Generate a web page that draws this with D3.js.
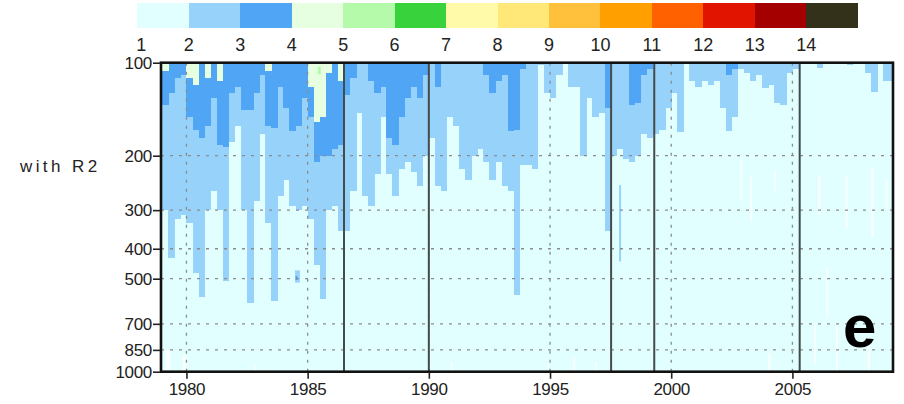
<!DOCTYPE html>
<html>
<head>
<meta charset="utf-8">
<script src="https://cdn.jsdelivr.net/npm/d3@7"></script>
<style>
  body { margin: 0; background: #fff; }
  svg { display: block; }
  text { font-family: "Liberation Sans", Arial, sans-serif; fill: #222; }
</style>
</head>
<body>
<svg id="chart" width="904" height="404"></svg>
<script>
// Quarterly time steps starting in January 1979
const startYear = 1979;
const stepYears = 0.25;

// Lowest pressure (hPa) reached by class 2 counted from the 100 hPa top, one per quarter
const lightBlueBottom = [
  300, 430, 320, 310, 330, 480, 575, 300, 260, 300, 510, 180,
  160, 300, 600, 280, 170, 330, 590, 270, 240, 290, 300, 290,
  320, 450, 580, 300, 290, 350, 350, 260, 145, 270, 290, 230,
  150, 230, 270, 220, 210, 225, 250, 200, 175, 250, 260, 150,
  160, 220, 240, 200, 190, 210, 240, 210, 250, 260, 564, 215,
  215, 220, 102, 125, 130, 110, 100, 120, 120, 200, 130, 150,
  145, 350, 200, 190, 205, 210, 200, 170, 175, 170, 165, 140,
  125, 168, 100, 115, 120, 115, 118, 115, 140, 166, 150, 105,
  108, 115, 110, 121, 118, 135, 137, 108, 105, 100, 100, 100,
  104, 100, 100, 101, 100, 102, 100, 100, 108, 124, 100, 115,
  115
];

// Lowest pressure (hPa) reached by class 3
const darkBlueBottom = [
  137, 125, 112, 110, 150, 165, 175, 160, 130, 185, 188, 125,
  120, 142, 142, 125, 110, 160, 163, 120, 140, 166, 160, 130,
  150, 209, 200, 200, 190, 185, 127, 112, 100, 100, 115, 125,
  120, 175, 185, 150, 130, 120, 130, 110, 100, 120, 100, 100,
  100, 100, 100, 100, 100, 110, 125, 115, 110, 166, 165, 105,
  100, 100, 100, 100, 100, 100, 100, 100, 100, 100, 100, 100,
  100, 140, 100, 100, 100, 137, 135, 110, 105, 100, 100, 100,
  100, 100, 100, 100, 100, 100, 100, 100, 100, 110, 105, 100,
  100, 100, 100, 100, 100, 100, 100, 100, 100, 100, 100, 100,
  100, 100, 100, 100, 100, 100, 100, 100, 100, 100, 100, 100,
  100
];

// Lowest pressure (hPa) reached by class 4 at the top
const paleGreenBottom = [
  106, 100, 100, 100, 112, 118, 100, 112, 100, 115, 100, 100,
  100, 100, 100, 100, 100, 106, 100, 100, 100, 100, 100, 100,
  120, 155, 150, 108, 100, 115, 100, 100, 100, 100, 100, 100,
  100, 100, 100, 100, 100, 100, 100, 100, 100, 100, 100, 100,
  100, 100, 100, 100, 100, 100, 100, 100, 100, 100, 100, 100,
  100, 100, 100, 100, 100, 100, 100, 100, 100, 100, 100, 100,
  100, 100, 100, 100, 100, 100, 100, 100, 100, 100, 100, 100,
  100, 100, 100, 100, 100, 100, 100, 100, 100, 100, 100, 100,
  100, 100, 100, 100, 100, 100, 100, 100, 100, 100, 100, 100,
  100, 100, 100, 100, 100, 100, 100, 100, 100, 100, 100, 100,
  100
];

// Short isolated streaks: time, top and bottom pressure, class (0 = no data)
const patchYear   = [1984.48, 1984.50, 1985.42, 1997.85,
                     1979.10, 1979.85, 1982.80, 1990.90, 1994.90, 1995.95, 1996.85,
                     2002.85, 2003.26, 2004.00, 2004.25, 2005.90, 2006.06, 2006.40,
                     2006.80, 2007.20, 2008.10, 2008.25, 2008.85];
const patchTop    = [470, 490, 103, 249,
                     850, 880, 950, 930, 940, 900, 930,
                     202, 234, 870, 224, 705, 231, 462,
                     705, 231, 820, 219, 240];
const patchBottom = [515, 505, 109, 440,
                     1000, 1000, 1000, 1000, 1000, 1000, 1000,
                     278, 326, 1000, 260, 950, 311, 669,
                     1000, 342, 1000, 369, 300];
const patchLevel  = [2, 3, 5, 2,
                     0, 0, 0, 0, 0, 0, 0,
                     0, 0, 0, 0, 0, 0, 0,
                     0, 0, 0, 0, 0];
const patchWidth  = [0.2, 0.08, 0.12, 0.08,
                     0.25, 0.15, 0.08, 0.08, 0.08, 0.08, 0.08,
                     0.08, 0.08, 0.1, 0.08, 0.08, 0.1, 0.08,
                     0.08, 0.08, 0.1, 0.1, 0.08];

// Vertical break markers
const breakYears = [1986.5, 1990.0, 1997.52, 1999.3, 2005.3];

// Axis ticks and colour-bar classes
const pressureTicks = [100, 200, 300, 400, 500, 700, 850, 1000];
const pressureGrid = [200, 300, 400, 500, 700, 850];
const yearTicks = [1980, 1985, 1990, 1995, 2000, 2005];
const levelLabels = d3.range(1, 15);
const levelColors = [
  "#e1ffff", "#96d2fa", "#50a5f5", "#e6ffe1", "#b4faaa", "#37d23c", "#fffaaa",
  "#ffe878", "#ffc03c", "#ffa000", "#ff6000", "#e11400", "#a50000", "#33311a"
];

const svg = d3.select("#chart");
const plot = { left: 161, right: 893, top: 62.7, bottom: 371.7 };

const x = d3.scaleLinear().domain([1978.95, 2009.15]).range([plot.left, plot.right]);
const y = d3.scaleLog().domain([100, 1000]).range([plot.top, plot.bottom]);

svg.append("defs").append("clipPath").attr("id", "plotClip")
  .append("rect")
  .attr("x", plot.left).attr("y", plot.top)
  .attr("width", plot.right - plot.left).attr("height", plot.bottom - plot.top);

// Background class 1
svg.append("rect")
  .attr("x", plot.left).attr("y", plot.top)
  .attr("width", plot.right - plot.left).attr("height", plot.bottom - plot.top)
  .attr("fill", levelColors[0]);

const field = svg.append("g").attr("clip-path", "url(#plotClip)");

function drawLayer(values, color) {
  const t0 = i => startYear + i * stepYears;
  field.append("g")
    .selectAll("rect")
    .data(values.map((p, i) => ({ i, p })).filter(d => d.p > 100))
    .join("rect")
    .attr("x", d => x(t0(d.i)))
    .attr("width", d => x(t0(d.i + 1)) - x(t0(d.i)) + 0.4)
    .attr("y", y(100))
    .attr("height", d => y(d.p) - y(100))
    .attr("fill", color)
    .attr("shape-rendering", "crispEdges");
}

drawLayer(lightBlueBottom, levelColors[1]);
drawLayer(darkBlueBottom, levelColors[2]);
drawLayer(paleGreenBottom, levelColors[3]);

// Isolated streaks
field.append("g")
  .selectAll("rect")
  .data(patchYear.map((t, i) => ({
    t, top: patchTop[i], bot: patchBottom[i], lev: patchLevel[i], w: patchWidth[i]
  })))
  .join("rect")
  .attr("x", d => x(d.t))
  .attr("width", d => x(d.t + d.w) - x(d.t))
  .attr("y", d => y(d.top))
  .attr("height", d => y(d.bot) - y(d.top))
  .attr("fill", d => d.lev === 0 ? "#ffffff" : levelColors[d.lev - 1])
  .attr("opacity", d => d.lev === 0 ? 0.75 : 1);

// Dotted grid
const grid = svg.append("g")
  .attr("stroke", "#8c8c8c")
  .attr("stroke-width", 1.3)
  .attr("stroke-dasharray", "3,6");
grid.selectAll("line.h")
  .data(pressureGrid)
  .join("line")
  .attr("class", "h")
  .attr("x1", plot.left).attr("x2", plot.right)
  .attr("y1", d => y(d)).attr("y2", d => y(d));
grid.selectAll("line.v")
  .data(yearTicks)
  .join("line")
  .attr("class", "v")
  .attr("x1", d => x(d)).attr("x2", d => x(d))
  .attr("y1", plot.top).attr("y2", plot.bottom);

// Break markers
svg.append("g")
  .selectAll("line")
  .data(breakYears)
  .join("line")
  .attr("x1", d => x(d)).attr("x2", d => x(d))
  .attr("y1", plot.top).attr("y2", plot.bottom)
  .attr("stroke", "#454a4a")
  .attr("stroke-width", 2);

// Frame
svg.append("rect")
  .attr("x", plot.left).attr("y", plot.top)
  .attr("width", plot.right - plot.left).attr("height", plot.bottom - plot.top)
  .attr("fill", "none")
  .attr("stroke", "#111")
  .attr("stroke-width", 2.6);

// Axes
const yAxis = d3.axisLeft(y)
  .tickValues(pressureTicks)
  .tickFormat(d3.format("d"))
  .tickSize(7)
  .tickPadding(1);
const yg = svg.append("g").attr("transform", `translate(${plot.left - 1},0)`).call(yAxis);
yg.select(".domain").remove();
yg.selectAll(".tick line").attr("stroke", "#222").attr("stroke-width", 1.6);
yg.selectAll(".tick text").attr("font-size", 17).attr("fill", "#222")
  .attr("font-family", "'Liberation Sans', Arial, sans-serif").attr("letter-spacing", -0.3);

const xAxis = d3.axisBottom(x)
  .tickValues(yearTicks)
  .tickFormat(d3.format("d"))
  .tickSize(6)
  .tickPadding(4);
const xg = svg.append("g").attr("transform", `translate(0,${plot.bottom + 1})`).call(xAxis);
xg.select(".domain").remove();
xg.selectAll(".tick line").attr("stroke", "#222").attr("stroke-width", 1.6);
xg.selectAll(".tick text").attr("font-size", 17).attr("fill", "#222")
  .attr("font-family", "'Liberation Sans', Arial, sans-serif").attr("letter-spacing", -0.3);

// Colour bar
const cb = { left: 137.3, width: 51.46, top: 3, height: 25 };
const cbx = d3.scaleLinear().domain([0, levelColors.length]).range([cb.left, cb.left + cb.width * levelColors.length]);
svg.append("g")
  .selectAll("rect")
  .data(levelColors)
  .join("rect")
  .attr("x", (d, i) => cbx(i))
  .attr("width", (d, i) => cbx(i + 1) - cbx(i) + 0.3)
  .attr("y", cb.top)
  .attr("height", cb.height)
  .attr("fill", d => d)
  .attr("shape-rendering", "crispEdges");

svg.append("g")
  .selectAll("text")
  .data(levelLabels)
  .join("text")
  .attr("x", d => cbx(d - 1) + (d === 1 ? 4 : 0))
  .attr("y", 51)
  .attr("text-anchor", "middle")
  .attr("font-size", 18)
  .text(d => d);

// Row title and panel letter
svg.append("text")
  .attr("x", 20).attr("y", 172)
  .attr("font-size", 17)
  .attr("letter-spacing", 3.4)
  .text("with R2");

svg.append("text")
  .attr("x", 843).attr("y", 347)
  .attr("font-size", 60)
  .attr("font-weight", "bold")
  .attr("fill", "#000")
  .style("fill", "#000")
  .text("e");
</script>
</body>
</html>
